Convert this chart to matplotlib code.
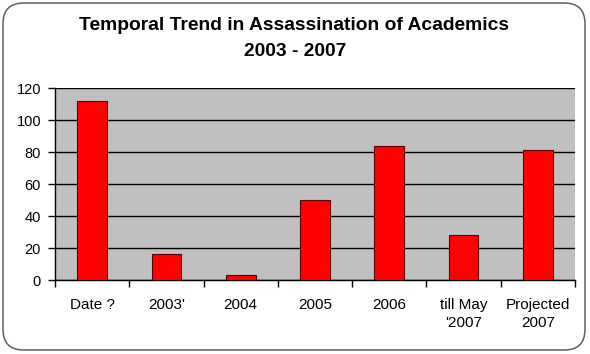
import matplotlib
matplotlib.use("Agg")
import matplotlib.pyplot as plt
from matplotlib.patches import FancyBboxPatch
import numpy as np

categories = ["Date ?", "2003'", "2004", "2005", "2006", "till May\n'2007", "Projected\n2007"]
values = [112, 16, 3, 50, 84, 28, 81]
yticks = [0, 20, 40, 60, 80, 100, 120]

plt.rcParams['font.family'] = ['Liberation Sans', 'DejaVu Sans']

fig = plt.figure(figsize=(5.9, 3.54), dpi=100)
fig.patch.set_facecolor('white')

# rounded border
border = FancyBboxPatch((3/590, 4/354), 582/590, 347/354,
                        boxstyle="round,pad=0,rounding_size=0.035",
                        transform=fig.transFigure, fill=False,
                        edgecolor='#606060', linewidth=1.1, mutation_aspect=590/354)
fig.patches.append(border)

ax = fig.add_axes([55/590, 1 - 280/354, 520/590, 192/354])
ax.set_facecolor('#C0C0C0')
x = np.arange(len(categories))
ax.bar(x, values, width=0.4, color='#FF0000', edgecolor='#600000', linewidth=0.8, zorder=3)
ax.set_xlim(-0.5, len(categories) - 0.5)
ax.set_ylim(0, 120)
ax.set_yticks(yticks)
ax.yaxis.grid(True, color='black', linewidth=1.0, zorder=1)
ax.set_axisbelow(True)
ax.set_xticks(x)
ax.set_xticklabels(categories, fontsize=11, linespacing=1.32)
ax.set_xticks(np.arange(len(categories) + 1) - 0.5, minor=True)
ax.tick_params(axis='x', which='major', length=0, pad=13)
ax.tick_params(axis='x', which='minor', length=5, width=1, direction='out', color='black')
ax.tick_params(axis='y', length=5, width=1, direction='out', labelsize=10.5, pad=5)
for s in ['top', 'right']:
    ax.spines[s].set_visible(False)
for s in ['left', 'bottom']:
    ax.spines[s].set_color('black')
    ax.spines[s].set_linewidth(1.0)

fig.text(294/590, 1 - 26/354, "Temporal Trend in Assassination of Academics",
         ha='center', va='center', fontsize=13.9, fontweight='bold')
fig.text(295/590, 1 - 52/354, "2003 - 2007",
         ha='center', va='center', fontsize=13.9, fontweight='bold')

fig.savefig("out.png", dpi=100)
